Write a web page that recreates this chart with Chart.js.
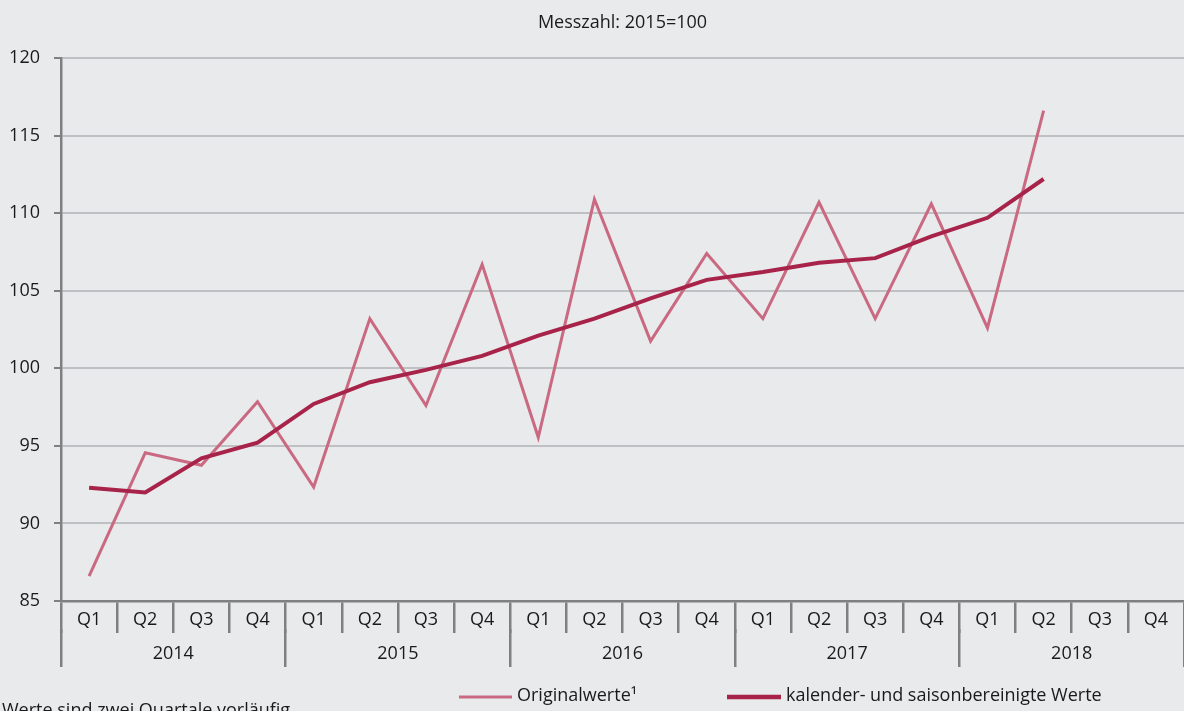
<!DOCTYPE html>
<html>
<head>
<meta charset="utf-8">
<script src="https://cdn.jsdelivr.net/npm/chart.js@4.4.1/dist/chart.umd.min.js"></script>
<style>
  html, body { margin: 0; padding: 0; background: #e9eaec; }
  #wrap { width: 1184px; height: 711px; position: relative; overflow: hidden; }
  canvas { display: block; }
</style>
</head>
<body>
<div id="wrap"><canvas id="c" width="1184" height="711"></canvas></div>
<script>
// ---- Data ----
const quarterLabels = ['Q1','Q2','Q3','Q4','Q1','Q2','Q3','Q4','Q1','Q2','Q3','Q4','Q1','Q2','Q3','Q4','Q1','Q2','Q3','Q4'];
const yearLabels = ['2014','2015','2016','2017','2018'];
const originalValues = [86.6, 94.55, 93.75, 97.85, 92.35, 103.2, 97.6, 106.7, 95.55, 110.9, 101.75, 107.4, 103.2, 110.7, 103.2, 110.6, 102.6, 116.6, null, null];
const adjustedValues = [92.3, 92.0, 94.2, 95.2, 97.7, 99.1, 99.9, 100.8, 102.1, 103.2, 104.5, 105.7, 106.2, 106.8, 107.1, 108.5, 109.7, 112.2, null, null];
const seriesNames = ['Originalwerte\u00B9', 'kalender- und saisonbereinigte Werte'];
const titleText = 'Messzahl: 2015=100';
const footnoteText = 'Werte sind zwei Quartale vorläufig';
const yTicks = [85, 90, 95, 100, 105, 110, 115, 120];

const FONT = '"Open Sans", "Noto Sans", sans-serif';
const FS = 18;
const TXT = '#1a1a1a';
const AXIS = '#808080';
const GRID = '#bfc0c4';
const COL_ORIG = '#c96a82';
const COL_ADJ = '#a8234a';

const customLegend = {
  id: 'customLegend',
  afterDraw(chart) {
    const ctx = chart.ctx;
    ctx.save();
    ctx.font = FS + 'px ' + FONT;
    ctx.fillStyle = TXT;
    ctx.textBaseline = 'middle';
    const y = 697;
    const items = [
      {x: 459, len: 53, lw: 3, ds: chart.data.datasets[0]},
      {x: 727, len: 54, lw: 4.5, ds: chart.data.datasets[1]}
    ];
    items.forEach(it => {
      ctx.strokeStyle = it.ds.borderColor;
      ctx.lineWidth = it.lw;
      ctx.beginPath();
      ctx.moveTo(it.x, y);
      ctx.lineTo(it.x + it.len, y);
      ctx.stroke();
      ctx.fillText(it.ds.label, it.x + it.len + 5, y - 1);
    });
    ctx.textBaseline = 'alphabetic';
    ctx.fillText(footnoteText, 2, 716);
    ctx.restore();
  }
};

new Chart(document.getElementById('c'), {
  type: 'line',
  data: {
    labels: quarterLabels,
    datasets: [
      {
        label: seriesNames[0],
        data: originalValues,
        borderColor: COL_ORIG,
        backgroundColor: COL_ORIG,
        borderWidth: 3,
        pointRadius: 0,
        tension: 0,
        xAxisID: 'x',
        order: 2
      },
      {
        label: seriesNames[1],
        data: adjustedValues,
        borderColor: COL_ADJ,
        backgroundColor: COL_ADJ,
        borderWidth: 4,
        pointRadius: 0,
        tension: 0,
        xAxisID: 'x',
        order: 1
      }
    ]
  },
  options: {
    responsive: false,
    animation: false,
    maintainAspectRatio: false,
    layout: { padding: { left: 0, right: 0, top: 0, bottom: 44 } },
    plugins: {
      legend: { display: false },
      tooltip: { enabled: false },
      title: {
        display: true,
        text: titleText,
        fullSize: false,
        color: TXT,
        font: { family: FONT, size: FS, weight: 'normal' },
        padding: { top: 12, bottom: 24.4 }
      }
    },
    scales: {
      x: {
        type: 'category',
        position: 'bottom',
        offset: true,
        afterFit: (s) => { s.height = 28; },
        grid: {
          offset: true,
          drawOnChartArea: false,
          color: (c) => (c.index >= quarterLabels.length ? 'rgba(0,0,0,0)' : AXIS),
          lineWidth: 2.5,
          tickLength: 32
        },
        border: { display: true, color: AXIS, width: 2.5 },
        ticks: {
          color: TXT,
          font: { family: FONT, size: FS },
          padding: -23.8,
          maxRotation: 0,
          autoSkip: false
        }
      },
      x2: {
        type: 'category',
        position: 'bottom',
        labels: yearLabels,
        offset: true,
        afterFit: (s) => { s.height = 38; },
        grid: {
          offset: true,
          drawOnChartArea: false,
          color: (c) => (c.index >= yearLabels.length ? 'rgba(0,0,0,0)' : AXIS),
          lineWidth: 2.5,
          tickLength: 38
        },
        border: { display: false },
        ticks: {
          color: TXT,
          font: { family: FONT, size: FS },
          padding: -23.8,
          maxRotation: 0,
          autoSkip: false
        }
      },
      y: {
        min: 85,
        max: 120,
        afterBuildTicks: (scale) => { scale.ticks = yTicks.map(v => ({ value: v })); },
        afterFit: (scale) => { scale.width = 61; },
        grid: {
          color: GRID,
          lineWidth: 2,
          tickColor: AXIS,
          tickLength: 7
        },
        border: { display: true, color: AXIS, width: 2.5 },
        ticks: {
          color: TXT,
          font: { family: FONT, size: FS },
          padding: 14
        }
      }
    }
  },
  plugins: [customLegend]
});
</script>
</body>
</html>
